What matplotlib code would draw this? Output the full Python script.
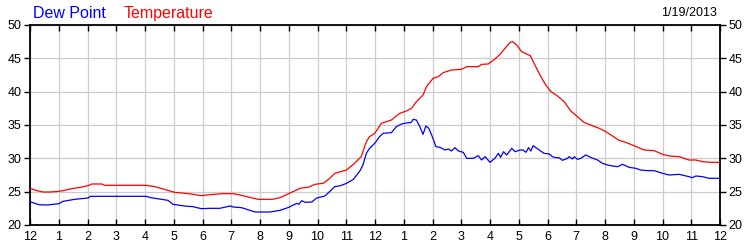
import matplotlib
matplotlib.use("Agg")
import matplotlib.pyplot as plt

plt.rcParams['font.family'] = ['Liberation Sans', 'DejaVu Sans']

temp_hours = [0.0, 0.2, 0.45, 0.7, 1.0, 1.2, 1.45, 1.75, 2.02, 2.15, 2.5, 2.6, 3.0, 3.5, 4.04,
              4.34, 4.68, 5.03, 5.3, 5.6, 5.96, 6.26, 6.7, 7.07, 7.3, 7.54, 7.94, 8.42, 8.7,
              8.99, 9.2, 9.39, 9.7, 9.91, 10.2, 10.4, 10.6, 11.01, 11.25, 11.52, 11.70, 11.81,
              11.99, 12.22, 12.4, 12.57, 12.86, 13.09, 13.27, 13.44, 13.67, 13.79, 14.02, 14.2,
              14.37, 14.66, 15.01, 15.19, 15.59, 15.71, 15.94, 16.17, 16.35, 16.52, 16.70,
              16.79, 16.93, 17.1, 17.22, 17.4, 17.59, 17.77, 17.94, 18.12, 18.35, 18.58, 18.81,
              19.04, 19.27, 19.5, 19.8, 20.03, 20.26, 20.49, 20.72, 21.01, 21.36, 21.71, 22.0,
              22.23, 22.58, 22.92, 23.16, 23.39, 23.68, 24.0]
temp_values = [25.5, 25.2, 24.95, 24.95, 25.05, 25.2, 25.45, 25.65, 25.9, 26.15, 26.15, 25.95,
               25.95, 25.95, 25.95, 25.75, 25.35, 24.9, 24.8, 24.65, 24.4, 24.55, 24.7, 24.7,
               24.5, 24.25, 23.85, 23.85, 24.1, 24.7, 25.1, 25.5, 25.7, 26.1, 26.25, 26.9,
               27.75, 28.25, 29.1, 30.25, 32.5, 33.25, 33.75, 35.25, 35.5, 35.75, 36.75, 37.1,
               37.5, 38.5, 39.5, 40.75, 42.0, 42.25, 42.85, 43.25, 43.35, 43.75, 43.75, 44.1,
               44.15, 44.9, 45.6, 46.5, 47.4, 47.5, 47.0, 46.0, 45.75, 45.4, 43.75, 42.25,
               41.0, 40.0, 39.35, 38.5, 37.1, 36.25, 35.4, 35.0, 34.5, 34.0, 33.35, 32.7,
               32.4, 31.9, 31.25, 31.15, 30.6, 30.35, 30.25, 29.75, 29.75, 29.5, 29.4, 29.4]

dew_hours = [0.0, 0.3, 0.6, 1.0, 1.15, 1.55, 2.02, 2.1, 4.04, 4.2, 4.8, 4.97, 5.38, 5.67, 5.96,
             6.26, 6.6, 6.96, 7.07, 7.36, 7.83, 8.35, 8.7, 9.0, 9.28, 9.35, 9.45, 9.57, 9.8,
             9.97, 10.26, 10.6, 10.8, 11.01, 11.25, 11.48, 11.58, 11.70, 11.81, 11.99, 12.16,
             12.28, 12.57, 12.74, 12.92, 13.15, 13.25, 13.33, 13.44, 13.56, 13.67, 13.77,
             13.87, 13.97, 14.12, 14.26, 14.43, 14.55, 14.66, 14.78, 14.9, 15.07, 15.19,
             15.42, 15.59, 15.71, 15.83, 16.0, 16.17, 16.29, 16.37, 16.47, 16.58, 16.76,
             16.87, 17.05, 17.15, 17.25, 17.34, 17.42, 17.5, 17.71, 17.88, 18.06, 18.17,
             18.29, 18.4, 18.52, 18.7, 18.75, 18.87, 18.93, 19.04, 19.16, 19.33, 19.5, 19.74,
             19.91, 20.09, 20.26, 20.43, 20.61, 20.84, 21.07, 21.24, 21.5, 21.71, 22.0, 22.23,
             22.58, 22.92, 23.04, 23.16, 23.39, 23.62, 24.0]
dew_values = [23.5, 23.05, 23.0, 23.2, 23.55, 23.85, 24.05, 24.3, 24.3, 24.1, 23.7, 23.1, 22.85,
              22.75, 22.45, 22.5, 22.5, 22.85, 22.7, 22.6, 21.95, 21.95, 22.2, 22.65, 23.25,
              23.1, 23.65, 23.4, 23.45, 24.05, 24.35, 25.75, 25.9, 26.25, 26.85, 28.15, 29.0,
              30.75, 31.5, 32.25, 33.25, 33.75, 33.85, 34.75, 35.15, 35.35, 35.35, 35.85,
              35.75, 34.75, 33.6, 34.85, 34.5, 33.5, 31.75, 31.65, 31.25, 31.4, 31.1, 31.6,
              31.1, 30.9, 30.0, 30.0, 30.4, 29.75, 30.25, 29.4, 30.0, 30.75, 30.15, 31.0,
              30.5, 31.5, 31.0, 31.25, 31.25, 30.9, 31.6, 31.1, 31.9, 31.25, 30.75, 30.65,
              30.25, 30.1, 30.1, 29.7, 30.0, 30.25, 29.9, 30.25, 29.85, 30.0, 30.5, 30.15,
              29.75, 29.25, 29.0, 28.85, 28.75, 29.1, 28.65, 28.5, 28.25, 28.15, 28.15, 27.75,
              27.5, 27.6, 27.25, 27.1, 27.35, 27.25, 27.0, 27.0]

x_tick_labels = ["12", "1", "2", "3", "4", "5", "6", "7", "8", "9", "10", "11",
                 "12", "1", "2", "3", "4", "5", "6", "7", "8", "9", "10", "11", "12"]
y_ticks = [20, 25, 30, 35, 40, 45, 50]
date_label = "1/19/2013"

fig = plt.figure(figsize=(7.5, 2.5), dpi=100)
ax = fig.add_axes([0.04, 0.1, 0.92, 0.8])

ax.plot(temp_hours, temp_values, color="#ff0000", lw=0.9, zorder=3)
ax.plot(dew_hours, dew_values, color="#0000ff", lw=0.9, zorder=3)

ax.set_xlim(0, 24)
ax.set_ylim(20, 50)
ax.set_xticks(range(25))
ax.set_xticklabels(x_tick_labels)
ax.set_yticks(y_ticks)
ax.grid(True, color="#cccccc", lw=0.9, zorder=0)
ax.set_axisbelow(True)

ax.tick_params(axis="x", direction="in", top=True, bottom=True, length=4, width=1,
               labelsize=9, pad=4)
ax.tick_params(axis="y", direction="out", left=True, right=True, labelleft=True,
               labelright=True, length=4, width=1, labelsize=9, pad=2)
for s in ax.spines.values():
    s.set_linewidth(1.3)
    s.set_color("black")

fig.text(33 / 750, 1 - 18 / 250, "Dew Point", color="#0000ff", fontsize=11.5, va="baseline")
fig.text(124 / 750, 1 - 18 / 250, "Temperature", color="#ff0000", fontsize=11.5, va="baseline")
fig.text(717 / 750, 1 - 16 / 250, date_label, color="black", fontsize=9, va="baseline", ha="right")

fig.savefig("out.png", dpi=100)
